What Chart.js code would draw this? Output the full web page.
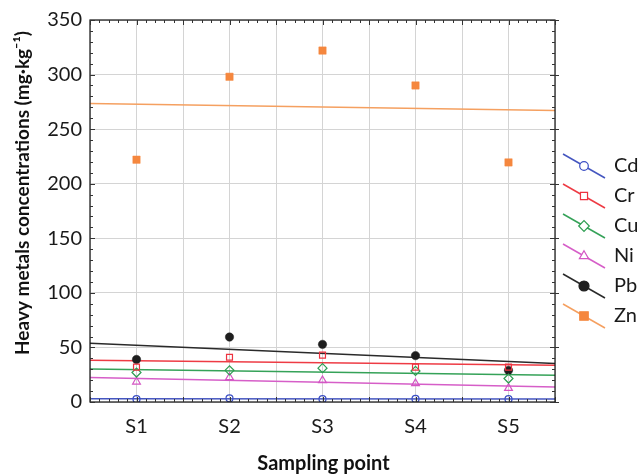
<!DOCTYPE html>
<html><head><meta charset="utf-8">
<script src="https://cdn.jsdelivr.net/npm/chart.js@4.4.1/dist/chart.umd.min.js"></script>
<style>html,body{margin:0;padding:0;background:#fff}#wrap{width:641px;height:474px}</style>
</head><body><div id="wrap"><canvas id="c" width="641" height="474"></canvas></div>
<script>
const categories = ['S1','S2','S3','S4','S5'];
const metals = ['Cd','Cr','Cu','Ni','Pb','Zn'];
const Cd = [2.6, 3.4, 2.7, 2.8, 2.6];
const Cr = [32, 41, 43, 32, 32];
const Cu = [27, 29, 31, 28.5, 21.5];
const Ni = [18.5, 22.5, 19.7, 17, 12.7];
const Pb = [39, 59.5, 52.8, 42.5, 29];
const Zn = [222, 298, 322, 290, 219.5];
const yTicks = [0,50,100,150,200,250,300,350];
const yTitle = 'Heavy metals concentrations (mg·kg⁻¹)';
const xTitle = 'Sampling point';

const seriesValues = [Cd, Cr, Cu, Ni, Pb, Zn];
const colors = ['#3b4fc4','#ee3340','#2e9e52','#d455c4','#1e1e1e','#f5873e'];
const lineColors = ['#4556c0','#ee3b44','#35a258','#d65ec8','#2a2a2a','#f5a060'];
const styles = [
  {ps:'circle', r:3.5, fill:false},
  {ps:'rect', r:4.2, fill:false},
  {ps:'rectRot', r:4.5, fill:false},
  {ps:'triangle', r:4.5, fill:false},
  {ps:'circle', r:4.2, fill:true},
  {ps:'rect', r:5.2, fill:true}
];
const XMIN = 0.5, XMAX = categories.length + 0.5;

function fit(vals){
  const n = vals.length, xs = vals.map((_,i)=>i+1);
  const mx = xs.reduce((a,b)=>a+b)/n, my = vals.reduce((a,b)=>a+b)/n;
  let sxy=0,sxx=0; xs.forEach((x,i)=>{sxy+=(x-mx)*(vals[i]-my);sxx+=(x-mx)*(x-mx);});
  const b = sxy/sxx, a = my - b*mx;
  return [{x:XMIN,y:a+b*XMIN},{x:XMAX,y:a+b*XMAX}];
}

const datasets = [];
metals.forEach((m,i)=>{
  datasets.push({type:'line', label:m+' fit', data:fit(seriesValues[i]), borderColor:lineColors[i], borderWidth:1.5,
    pointRadius:0, fill:false, order:10});
});
metals.forEach((m,i)=>{
  const st = styles[i];
  datasets.push({type:'scatter', label:m, data:seriesValues[i].map((v,k)=>({x:k+1,y:v})),
    pointStyle:st.ps, pointRadius:st.r, pointHoverRadius:st.r,
    borderColor:colors[i], backgroundColor: st.fill ? colors[i] : 'rgba(255,255,255,0)',
    borderWidth: st.fill ? 0.5 : 1.2, showLine:false, order:i});
});

const frame = {
  id:'frame',
  afterDraw(chart){
    const ctx = chart.ctx, a = chart.chartArea, xs = chart.scales.x, ys = chart.scales.y;
    ctx.save();
    ctx.strokeStyle = '#111'; ctx.lineWidth = 1.2;
    ctx.strokeRect(a.left, a.top, a.right-a.left, a.bottom-a.top);
    ctx.lineWidth = 1; ctx.strokeStyle = '#333';
    ctx.beginPath();
    for(let v=0; v<=350; v+=10){
      const y = Math.round(ys.getPixelForValue(v))+0.5, L = (v%50===0)?5:3;
      ctx.moveTo(a.left, y); ctx.lineTo(a.left+L, y);
      ctx.moveTo(a.right, y); ctx.lineTo(a.right-L, y);
      if(v%50===0){ ctx.moveTo(a.right, y); ctx.lineTo(a.right+4, y); }
    }
    for(let k=5; k<=55; k++){
      const v = k/10, x = Math.round(xs.getPixelForValue(v))+0.5, L = (k%5===0)?5:3;
      ctx.moveTo(x, a.bottom); ctx.lineTo(x, a.bottom-L);
      ctx.moveTo(x, a.top); ctx.lineTo(x, a.top+L);
    }
    ctx.stroke();
    // y title
    ctx.save();
    ctx.translate(a.left - 67, (a.top+a.bottom)/2 - 18);
    ctx.rotate(-Math.PI/2);
    ctx.fillStyle = '#111'; ctx.font = 'bold 19px Lato'; ctx.textAlign = 'center'; ctx.textBaseline = 'middle';
    ctx.fillText(yTitle, 0, 0);
    ctx.restore();
    // x title
    ctx.fillStyle = '#111'; ctx.font = 'bold 20px Lato'; ctx.textAlign = 'center'; ctx.textBaseline = 'middle';
    ctx.fillText(xTitle, (a.left+a.right)/2 + 1, a.bottom + 62);
    // legend
    const n = metals.length, gap = 30;
    const cx = a.right + 29, cy0 = (a.top+a.bottom)/2 + 30 - gap*(n-1)/2;
    metals.forEach((m,i)=>{
      const cy = cy0 + i*gap;
      ctx.strokeStyle = lineColors[i]; ctx.lineWidth = 1.5;
      ctx.beginPath(); ctx.moveTo(cx-21, cy-12); ctx.lineTo(cx+21, cy+12); ctx.stroke();
      const st = styles[i];
      ctx.fillStyle = st.fill ? colors[i] : '#fff';
      ctx.strokeStyle = colors[i]; ctx.lineWidth = 1.2;
      Chart.helpers.drawPoint(ctx, {pointStyle:st.ps, radius:st.r+0.8, rotation:0, borderWidth:1.2}, cx, cy);
      ctx.fillStyle = '#1a1a1a'; ctx.font = '20px Lato'; ctx.textBaseline = 'middle'; ctx.textAlign = 'left';
      ctx.fillText(m, cx+30, cy);
    });
    ctx.restore();
  }
};

new Chart(document.getElementById('c'), {
  type:'scatter',
  data:{datasets},
  options:{
    responsive:false, animation:false, devicePixelRatio:1,
    layout:{padding:{top:17,right:86,left:0,bottom:0}},
    plugins:{legend:{display:false}, tooltip:{enabled:false}},
    scales:{
      x:{type:'linear', min:XMIN, max:XMAX,
        afterBuildTicks(s){ s.ticks = []; for(let k=1;k<=11;k++) s.ticks.push({value:k/2}); },
        afterFit(s){ s.height = 72; },
        grid:{color:'#d4d4d4', drawTicks:false, lineWidth:1},
        border:{display:false},
        ticks:{padding:13, color:'#1a1a1a', font:{family:'Lato', size:20}, maxRotation:0, autoSkip:false,
          callback:(v)=> Number.isInteger(v) && v>=1 && v<=categories.length ? categories[v-1] : ''},
        title:{display:false}
      },
      y:{min:0, max:350,
        afterBuildTicks(s){ s.ticks = yTicks.map(v=>({value:v})); },
        afterFit(s){ s.width = 90; },
        grid:{color:'#d4d4d4', drawTicks:false, lineWidth:1},
        border:{display:false},
        ticks:{padding:8, color:'#1a1a1a', font:{family:'Lato', size:20}},
        title:{display:false}
      }
    }
  },
  plugins:[frame]
});
</script></body></html>
